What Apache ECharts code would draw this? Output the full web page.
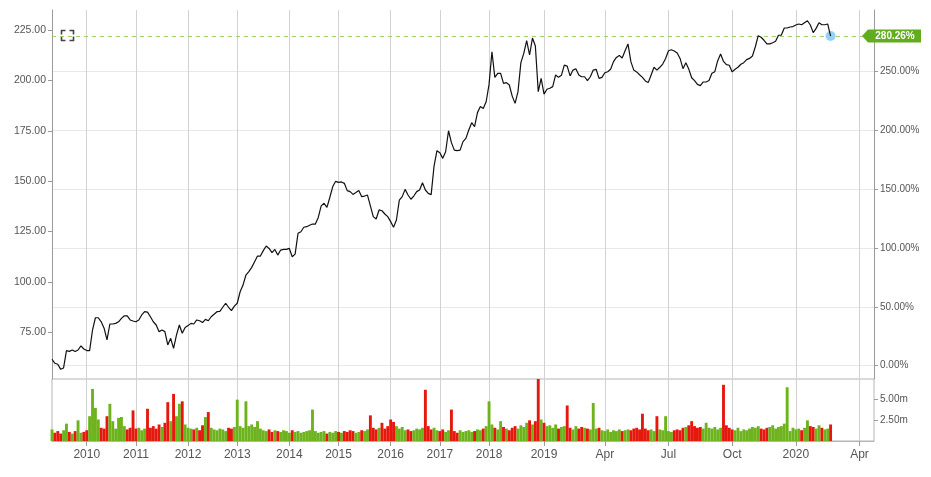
<!DOCTYPE html>
<html>
<head>
<meta charset="utf-8">
<script src="https://cdn.jsdelivr.net/npm/echarts@6/dist/echarts.min.js"></script>
<style>
html,body{margin:0;padding:0;background:#fff;}
#c{width:931px;height:477px;}
</style>
</head>
<body>
<div id="c"></div>
<script>
// ---- data ----
const prices = [
61.6,59.6,59.1,56.6,57.3,65.9,65.5,66.2,65.4,66.2,
68.2,66.7,65.9,65.9,76.1,82.2,82.2,80.2,77.0,71.2,
79.1,79.1,79.4,80.2,81.9,83.2,83.1,81.1,80.6,80.2,
81.1,83.6,85.2,85.0,82.7,80.2,78.6,75.3,76.1,75.3,
68.7,72.0,67.0,73.6,78.6,74.5,77.4,78.3,79.4,79.1,
81.1,80.7,79.8,81.4,80.7,82.7,83.9,85.2,85.4,87.4,
89.4,87.4,85.7,88.0,89.4,95.1,98.4,103.4,105.1,107.2,
110.0,112.8,112.8,115.5,117.8,116.6,114.5,116.1,113.3,115.8,
116.1,116.1,116.6,112.5,113.8,124.1,124.9,127.1,127.4,128.1,
128.7,128.7,132.0,137.7,139.0,137.0,142.0,147.3,149.9,149.4,
149.6,148.9,145.3,144.8,143.4,144.3,145.3,142.3,142.6,143.1,
137.7,132.4,131.2,135.7,135.3,133.7,132.4,129.9,127.1,130.7,
140.6,142.3,145.9,143.1,141.0,142.6,144.8,145.6,149.2,145.6,
143.9,143.3,157.5,165.1,164.1,161.3,164.6,175.0,169.1,165.4,
165.1,165.4,169.6,171.2,175.4,179.0,177.0,184.0,187.0,186.1,
189.4,198.0,214.2,201.5,203.5,203.5,198.5,198.9,197.7,192.2,
188.6,194.4,208.8,213.4,219.7,212.6,221.0,217.1,194.4,201.0,
193.2,195.6,196.1,196.9,202.7,201.5,202.5,207.6,207.1,202.2,
205.1,205.8,202.7,201.8,201.8,199.9,201.8,205.1,205.5,201.0,
201.5,203.8,204.3,205.5,209.3,211.4,212.4,211.1,214.7,218.1,
209.3,205.1,204.2,202.8,201.5,199.7,198.9,202.7,206.5,205.1,
206.5,208.1,210.9,214.7,215.2,214.6,213.6,210.9,205.8,208.8,
205.6,201.3,199.9,198.0,197.4,199.2,199.2,199.9,203.5,204.3,
209.8,213.1,209.4,207.8,207.5,204.2,205.5,206.5,208.0,208.8,
210.3,210.9,212.1,216.7,222.2,221.4,219.9,218.1,218.1,218.7,
219.4,222.4,222.5,226.0,226.0,226.5,226.7,227.5,228.0,227.6,
228.6,229.6,227.5,223.7,225.8,228.6,227.6,227.6,228.0,222.0
];
const volumes = [
1.4,1.0,1.2,0.9,1.3,2.1,1.1,0.9,1.2,2.5,
1.0,1.1,1.3,3.0,6.3,4.0,2.6,1.6,1.5,3.0,
4.5,2.4,1.5,2.8,2.9,1.8,1.4,1.6,3.7,1.5,
1.6,1.3,1.5,3.9,1.6,1.8,1.5,2.0,1.7,2.2,
4.7,2.4,5.7,3.0,4.5,4.8,2.0,1.6,1.5,1.4,
1.6,1.3,1.9,2.9,3.5,1.6,1.4,1.3,1.5,1.4,
1.2,1.6,1.5,1.7,5.0,1.8,1.6,4.8,1.8,2.0,
1.7,2.4,1.5,1.3,1.2,1.4,1.1,1.3,1.2,1.1,
1.3,1.2,1.0,1.3,1.1,1.2,1.0,1.1,1.2,1.3,
3.8,1.2,1.0,1.1,1.2,0.9,1.1,1.0,1.2,1.1,
1.0,1.2,1.1,1.3,1.2,1.0,1.1,1.3,1.2,1.4,
3.1,1.6,1.4,1.6,2.2,1.5,1.8,2.6,2.3,1.8,
1.5,1.7,1.3,1.4,1.2,1.3,1.5,1.4,1.6,6.2,
1.8,1.4,1.6,1.3,1.2,1.4,1.1,1.3,3.8,1.2,
1.0,1.3,1.1,1.2,1.3,1.1,1.2,1.4,1.3,1.5,
1.8,4.8,2.0,1.6,1.4,2.4,1.7,1.5,1.3,1.6,
1.8,1.5,1.9,1.7,2.2,2.5,2.0,2.4,7.5,2.6,
2.2,1.8,1.9,1.6,2.0,1.5,1.7,1.8,4.3,1.6,
1.4,1.8,1.5,1.7,1.6,1.5,1.4,4.6,1.5,1.6,
1.3,1.2,1.4,1.1,1.3,1.2,1.4,1.2,1.3,1.4,
1.3,1.5,1.6,1.4,3.3,1.5,1.3,1.4,1.2,3.0,
1.4,1.3,3.0,1.2,1.1,1.3,1.4,1.3,1.6,1.7,
1.9,2.4,1.8,1.6,1.7,1.5,2.2,1.6,1.5,1.7,
1.4,1.6,6.8,1.9,1.6,1.4,1.3,1.6,1.2,1.4,
1.3,1.5,1.7,1.6,1.8,1.5,1.4,1.6,1.7,1.9,
1.5,1.7,1.8,2.1,6.5,1.2,1.6,1.4,1.5,1.3,
1.6,2.5,1.8,1.7,1.5,1.9,1.6,1.4,1.5,2.0
];
const categoryCount = 285;
const tickLabels = ['2010','2011','2012','2013','2014','2015','2016','2017','2018','2019','Apr','Jul','Oct','2020','Apr'];
const tickIndex  = [12,29,47,64,82,99,117,134,151,170,191,213,235,257,279];
const priceTicks = [75,100,125,150,175,200,225];
const pctTicks = [0,50,100,150,200,250];
const volTicks = [2.5,5];
const priceMin = 51.8, priceMax = 234.93;
const basePrice = 58.381;
const volMax = 7.5;

// ---- build ----
const cats = Array.from({length: categoryCount}, (_, i) => String(i));
const tickMap = {};
tickIndex.forEach((k, j) => { tickMap[k] = tickLabels[j]; });
const isTick = (idx) => tickMap[idx] !== undefined;
const labelOf = (v) => { const t = tickMap[Number(v)]; return t === undefined ? '' : t; };
const lastIdx = prices.length - 1;
const last = prices[lastIdx];
const pctOf = (p) => (p / basePrice - 1) * 100;
const UP = '#6db31e', DOWN = '#e5180d';
const volData = volumes.map((v, i) => ({
  value: v,
  itemStyle: { color: (i > 0 && prices[i] < prices[i - 1]) ? DOWN : UP }
}));
const FONT = 'Liberation Sans, Arial, sans-serif';
const axisGrey = '#9a9a9a';

const chart = echarts.init(document.getElementById('c'), null, {renderer: 'canvas'});
chart.setOption({
  animation: false,
  backgroundColor: '#fff',
  textStyle: { fontFamily: FONT },
  grid: [
    { left: 52, right: 57, top: 10, height: 369, containLabel: false, outerBoundsMode: 'none' },
    { left: 52, right: 57, top: 379, height: 62, containLabel: false, outerBoundsMode: 'none',
      show: true, borderColor: '#b5b5b5', borderWidth: 1, backgroundColor: 'transparent' }
  ],
  xAxis: [
    { type: 'category', gridIndex: 0, data: cats, boundaryGap: false,
      axisLine: { show: false }, axisTick: { show: false }, axisLabel: { show: false },
      splitLine: { show: true, interval: (i) => isTick(i), lineStyle: { color: '#d2d2d2', width: 1 } } },
    { type: 'category', gridIndex: 1, data: cats, boundaryGap: false,
      axisLine: { show: true, lineStyle: { color: '#b5b5b5' } },
      axisTick: { show: true, interval: (i) => isTick(i), length: 5, lineStyle: { color: axisGrey } },
      axisLabel: { show: true, interval: (i) => isTick(i), formatter: (v) => labelOf(v),
        color: '#555', fontSize: 12, margin: 8, fontFamily: FONT, hideOverlap: false },
      splitLine: { show: true, interval: (i) => isTick(i), lineStyle: { color: '#d2d2d2', width: 1 } } }
  ],
  yAxis: [
    { type: 'value', gridIndex: 0, position: 'left', min: priceMin, max: priceMax,
      axisLine: { show: true, lineStyle: { color: axisGrey } },
      axisTick: { show: true, customValues: priceTicks, length: 4, lineStyle: { color: axisGrey } },
      axisLabel: { show: true, customValues: priceTicks, formatter: (v) => v.toFixed(2),
        color: '#555', fontSize: 10.5, margin: 6, fontFamily: FONT },
      splitLine: { show: false } },
    { type: 'value', gridIndex: 0, position: 'right', min: pctOf(priceMin), max: pctOf(priceMax),
      axisLine: { show: true, lineStyle: { color: axisGrey } },
      axisTick: { show: true, customValues: pctTicks, length: 4, lineStyle: { color: axisGrey } },
      axisLabel: { show: true, customValues: pctTicks, formatter: (v) => v.toFixed(2) + '%',
        color: '#555', fontSize: 10, margin: 6, fontFamily: FONT },
      splitLine: { show: true, lineStyle: { color: '#e8e8e8', width: 1 } } },
    { type: 'value', gridIndex: 1, position: 'right', min: 0, max: volMax,
      axisLine: { show: false },
      axisTick: { show: true, customValues: volTicks, length: 4, lineStyle: { color: axisGrey } },
      axisLabel: { show: true, customValues: volTicks, formatter: (v) => v.toFixed(2) + 'm',
        color: '#555', fontSize: 10, margin: 6, fontFamily: FONT },
      splitLine: { show: false } }
  ],
  series: [
    { type: 'line', xAxisIndex: 0, yAxisIndex: 0, data: prices, showSymbol: false,
      lineStyle: { color: '#111', width: 1.2 }, z: 5,
      markLine: { silent: true, symbol: 'none', animation: false,
        data: [{ yAxis: last }],
        lineStyle: { color: '#9fd06a', type: [4, 4], width: 1 },
        label: { show: false } },
      markPoint: { silent: true, animation: false,
        data: [{ coord: [lastIdx, last] }],
        symbol: 'circle', symbolSize: 10,
        itemStyle: { color: '#93d2f5' }, label: { show: false } } },
    { type: 'bar', xAxisIndex: 1, yAxisIndex: 2, data: volData,
      barCategoryGap: '0%', large: false }
  ]
});

// value tag on the right axis and the corner icon
const yPix = chart.convertToPixel({ yAxisIndex: 0 }, last);
const tipX = chart.getWidth() - 57 - 12;
const pctText = pctOf(last).toFixed(2) + '%';
chart.setOption({
  graphic: [
    { type: 'polygon', z: 100, shape: { points: [[tipX, yPix], [tipX + 6, yPix - 6.5], [tipX + 59, yPix - 6.5], [tipX + 59, yPix + 6.5], [tipX + 6, yPix + 6.5]] },
      style: { fill: '#62ad1e' } },
    { type: 'text', z: 101, x: tipX + 33, y: yPix,
      style: { text: pctText, fill: '#fff', font: 'bold 10px ' + FONT, textAlign: 'center', textVerticalAlign: 'middle' } },
    { type: 'group', left: 59, top: 28, z: 100, children: [
      { type: 'polyline', shape: { points: [[0, 4], [0, 0], [4, 0]] }, style: { stroke: '#444', lineWidth: 1.6, fill: null } },
      { type: 'polyline', shape: { points: [[8, 0], [12, 0], [12, 4]] }, style: { stroke: '#444', lineWidth: 1.6, fill: null } },
      { type: 'polyline', shape: { points: [[0, 6], [0, 10], [4, 10]] }, style: { stroke: '#444', lineWidth: 1.6, fill: null } },
      { type: 'polyline', shape: { points: [[8, 10], [12, 10], [12, 6]] }, style: { stroke: '#444', lineWidth: 1.6, fill: null } }
    ] }
  ]
});
</script>
</body>
</html>
